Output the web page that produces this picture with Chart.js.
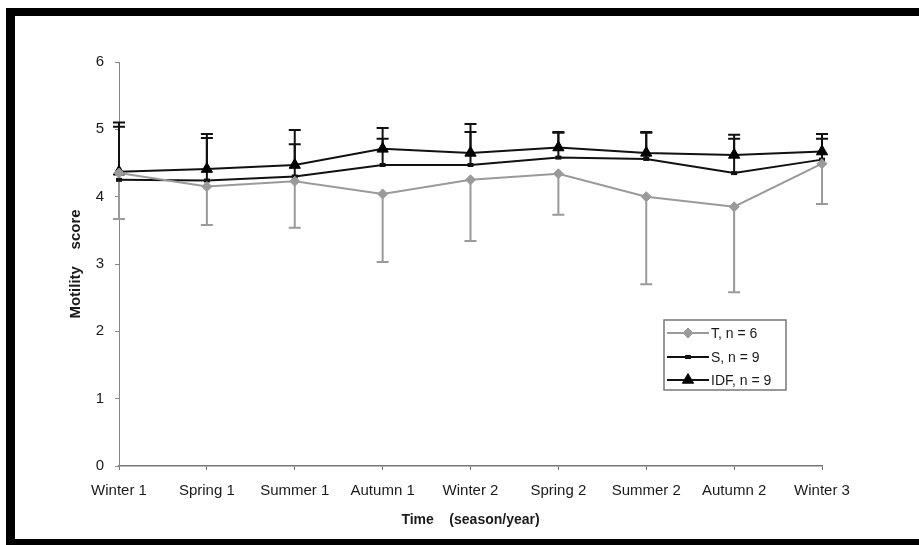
<!DOCTYPE html>
<html>
<head>
<meta charset="utf-8">
<script src="https://cdn.jsdelivr.net/npm/chart.js@4/dist/chart.umd.min.js"></script>
<style>
  html, body { margin: 0; padding: 0; background: #fff; overflow: hidden; }
  canvas { display: block; }
</style>
</head>
<body>
<canvas id="motilityChart" width="919" height="545"></canvas>
<script>
// seasons on the x axis
const seasons = ['Winter 1', 'Spring 1', 'Summer 1', 'Autumn 1', 'Winter 2', 'Spring 2', 'Summer 2', 'Autumn 2', 'Winter 3'];

// mean motility scores
const tScores   = [4.35, 4.15, 4.23, 4.04, 4.25, 4.34, 4.00, 3.85, 4.49];
const sScores   = [4.25, 4.24, 4.30, 4.47, 4.47, 4.58, 4.56, 4.35, 4.55];
const idfScores = [4.37, 4.41, 4.47, 4.71, 4.65, 4.73, 4.65, 4.62, 4.67];

// error bar ends (T drawn downwards, S and IDF upwards)
const tLower   = [3.67, 3.58, 3.54, 3.03, 3.34, 3.73, 2.70, 2.58, 3.89];
const sUpper   = [5.04, 4.87, 4.78, 4.86, 4.96, 4.95, 4.95, 4.86, 4.86];
const idfUpper = [5.10, 4.93, 4.99, 5.02, 5.08, 4.96, 4.96, 4.92, 4.93];

const yTicks = [0, 1, 2, 3, 4, 5, 6];

const FONT = "'Liberation Sans', Arial, Helvetica, sans-serif";
const GREY = '#9a9a9a';

// error bars, drawn under the markers
const errorBars = {
    id: 'errorBars',
    beforeDatasetsDraw(chart) {
        const ctx = chart.ctx;
        const x = chart.scales.x, y = chart.scales.y;
        chart.data.datasets.forEach((ds) => {
            if (!ds.errorEnds) return;
            ctx.save();
            ctx.strokeStyle = ds.borderColor;
            ctx.lineWidth = 2;
            ds.data.forEach((v, i) => {
                const px = x.getPixelForValue(i);
                const y0 = y.getPixelForValue(v);
                const y1 = y.getPixelForValue(ds.errorEnds[i]);
                ctx.beginPath();
                ctx.moveTo(px, y0);
                ctx.lineTo(px, y1);
                ctx.moveTo(px - 6, y1);
                ctx.lineTo(px + 6, y1);
                ctx.stroke();
            });
            ctx.restore();
        });
    }
};

// frame + legend box in the lower right
const decorations = {
    id: 'decorations',
    afterDraw(chart) {
        const ctx = chart.ctx;
        ctx.save();
        // thick black frame (no right side in the scan)
        ctx.fillStyle = '#000';
        ctx.fillRect(6, 8, 913, 8);
        ctx.fillRect(6, 8, 9, 537);
        ctx.fillRect(6, 539, 913, 6);

        // legend
        ctx.strokeStyle = '#777';
        ctx.lineWidth = 1.5;
        ctx.strokeRect(664, 320, 122, 70);
        const rows = [333, 357, 380];
        chart.data.datasets.forEach((ds, i) => {
            const ry = rows[i];
            ctx.strokeStyle = ds.borderColor;
            ctx.fillStyle = ds.pointBackgroundColor;
            ctx.lineWidth = 2;
            ctx.beginPath();
            ctx.moveTo(667, ry);
            ctx.lineTo(709, ry);
            ctx.stroke();
            if (Chart.helpers && Chart.helpers.drawPoint) {
                ctx.lineWidth = ds.pointBorderWidth;
                Chart.helpers.drawPoint(ctx, {
                    pointStyle: ds.pointStyle,
                    radius: ds.pointRadius,
                    borderWidth: ds.pointBorderWidth,
                    rotation: 0
                }, 688, ry);
            }
            ctx.fillStyle = '#1a1a1a';
            ctx.font = '14px ' + FONT;
            ctx.textBaseline = 'middle';
            ctx.textAlign = 'left';
            ctx.fillText(ds.label, 711, ry + 1);
        });
        ctx.restore();
    }
};

new Chart(document.getElementById('motilityChart'), {
    type: 'line',
    data: {
        labels: seasons,
        datasets: [
            {
                label: 'T, n = 6',
                data: tScores,
                errorEnds: tLower,
                borderColor: GREY,
                borderWidth: 2,
                pointStyle: 'rectRot',
                pointRadius: 5,
                pointBorderWidth: 1,
                pointBackgroundColor: GREY,
                pointBorderColor: GREY,
                tension: 0
            },
            {
                label: 'S, n = 9',
                data: sScores,
                errorEnds: sUpper,
                borderColor: '#111',
                borderWidth: 2,
                pointStyle: 'line',
                pointRadius: 3,
                pointBorderWidth: 4,
                pointBackgroundColor: '#111',
                pointBorderColor: '#111',
                tension: 0
            },
            {
                label: 'IDF, n = 9',
                data: idfScores,
                errorEnds: idfUpper,
                borderColor: '#111',
                borderWidth: 2,
                pointStyle: 'triangle',
                pointRadius: 6.5,
                pointBorderWidth: 1,
                pointBackgroundColor: '#000',
                pointBorderColor: '#000',
                tension: 0
            }
        ]
    },
    options: {
        responsive: false,
        animation: false,
        layout: { padding: { left: 0, right: 97, top: 62, bottom: 0 } },
        plugins: {
            legend: { display: false },
            tooltip: { enabled: false }
        },
        scales: {
            x: {
                type: 'category',
                offset: false,
                grid: { drawOnChartArea: false, drawTicks: true, tickLength: 4, color: '#777' },
                border: { display: true, color: '#777', width: 1.5 },
                ticks: { color: '#1a1a1a', padding: 12, maxRotation: 0, autoSkip: false, font: { family: FONT, size: 15 } },
                title: {
                    display: true,
                    text: 'Time    (season/year)',
                    color: '#1a1a1a',
                    font: { family: FONT, size: 14, weight: 'bold' },
                    padding: { top: 0, bottom: 16 }
                },
                afterFit(scale) { scale.height = 79; }
            },
            y: {
                min: 0,
                max: 6,
                afterBuildTicks(scale) { scale.ticks = yTicks.map(v => ({ value: v })); },
                grid: { drawOnChartArea: false, drawTicks: true, tickLength: 4, color: '#888' },
                border: { display: true, color: '#888', width: 1 },
                ticks: { color: '#1a1a1a', padding: 11, font: { family: FONT, size: 15 } },
                title: {
                    display: true,
                    text: 'Motility    score',
                    color: '#1a1a1a',
                    font: { family: FONT, size: 15, weight: 'bold' },
                    padding: { top: 67, bottom: 0 }
                },
                afterFit(scale) { scale.width = 119; }
            }
        }
    },
    plugins: [errorBars, decorations]
});
</script>
</body>
</html>
